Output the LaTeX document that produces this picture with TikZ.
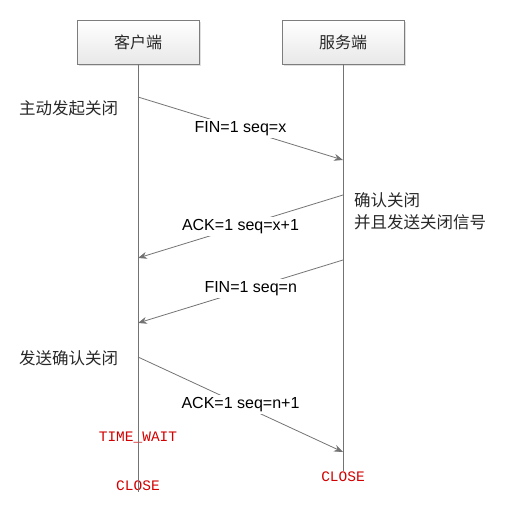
\documentclass[tikz,border=0pt]{standalone}
\usepackage{fontspec}
\setmainfont{Liberation Sans}
\setmonofont{Liberation Mono}
\newfontfamily\cjk{Noto Sans CJK SC}
\usepackage{tikz}
\usetikzlibrary{arrows.meta, positioning, shadows}
\definecolor{linegray}{RGB}{115,115,115}
\definecolor{boxgray}{RGB}{125,125,125}
\definecolor{statered}{RGB}{210,0,0}
\definecolor{notetext}{RGB}{40,40,40}
\tikzset{
  party/.style={rectangle, draw=boxgray, top color=white, bottom color=gray!18,
    minimum width=122pt, minimum height=44pt, line width=0.7pt,
    font=\cjk\fontsize{16}{18}\selectfont, text=notetext,
    drop shadow={shadow xshift=1.5pt, shadow yshift=-1.5pt, opacity=0.25}},
  lifeline/.style={color=linegray, line width=0.8pt},
  msg/.style={-{Stealth[length=9pt, width=7pt]}, color=linegray, line width=0.8pt},
  msglabel/.style={fill=white, inner sep=2pt, text=black,
    font=\fontsize{16}{18}\selectfont},
  note/.style={anchor=west, align=left, inner sep=2pt, text=notetext,
    font=\cjk\fontsize{16.5}{22}\selectfont},
  state/.style={inner sep=1pt, text=statered, font=\ttfamily\fontsize{14.5}{16}\selectfont}
}

\begin{document}
\begin{tikzpicture}[x=1pt, y=-1pt]
  \useasboundingbox (0,0) rectangle (504,530);

  % Client and server
  \node[party] (client) at (138,42) {客户端};
  \node[party] (server) at (343,42) {服务端};

  % States
  \node[state] (timewait) at (138,437) {TIME\_WAIT};
  \node[state] (clientclose) at (138,486) {CLOSE};
  \node[state] (serverclose) at (343,477) {CLOSE};

  % Lifelines
  \draw[lifeline] (client.south) -- (clientclose.south);
  \draw[lifeline] (server.south) -- (serverclose.north);

  % Message end points
  \coordinate (c1) at (138,97);  \coordinate (s1) at (343,160);
  \coordinate (s2) at (343,195); \coordinate (c2) at (138,258);
  \coordinate (s3) at (343,260); \coordinate (c3) at (138,323);
  \coordinate (c4) at (138,357); \coordinate (s4) at (343,452);

  % Four-way close
  \draw[msg] (c1) -- node[msglabel] (fin1) {FIN=1 seq=x} (s1);
  \draw[msg] (s2) -- node[msglabel] (ack1) {ACK=1 seq=x+1} (c2);
  \draw[msg] (s3) -- node[msglabel, pos=0.45] (fin2) {FIN=1 seq=n} (c3);
  \draw[msg] (c4) -- node[msglabel] (ack2) {ACK=1 seq=n+1} (s4);

  % Notes
  \node[note] (activeclose) at (17,108) {主动发起关闭};
  \node[note] (confirmclose) at (352,211) {确认关闭\\并且发送关闭信号};
  \node[note] (sendack) at (17,358) {发送确认关闭};
\end{tikzpicture}
\end{document}
